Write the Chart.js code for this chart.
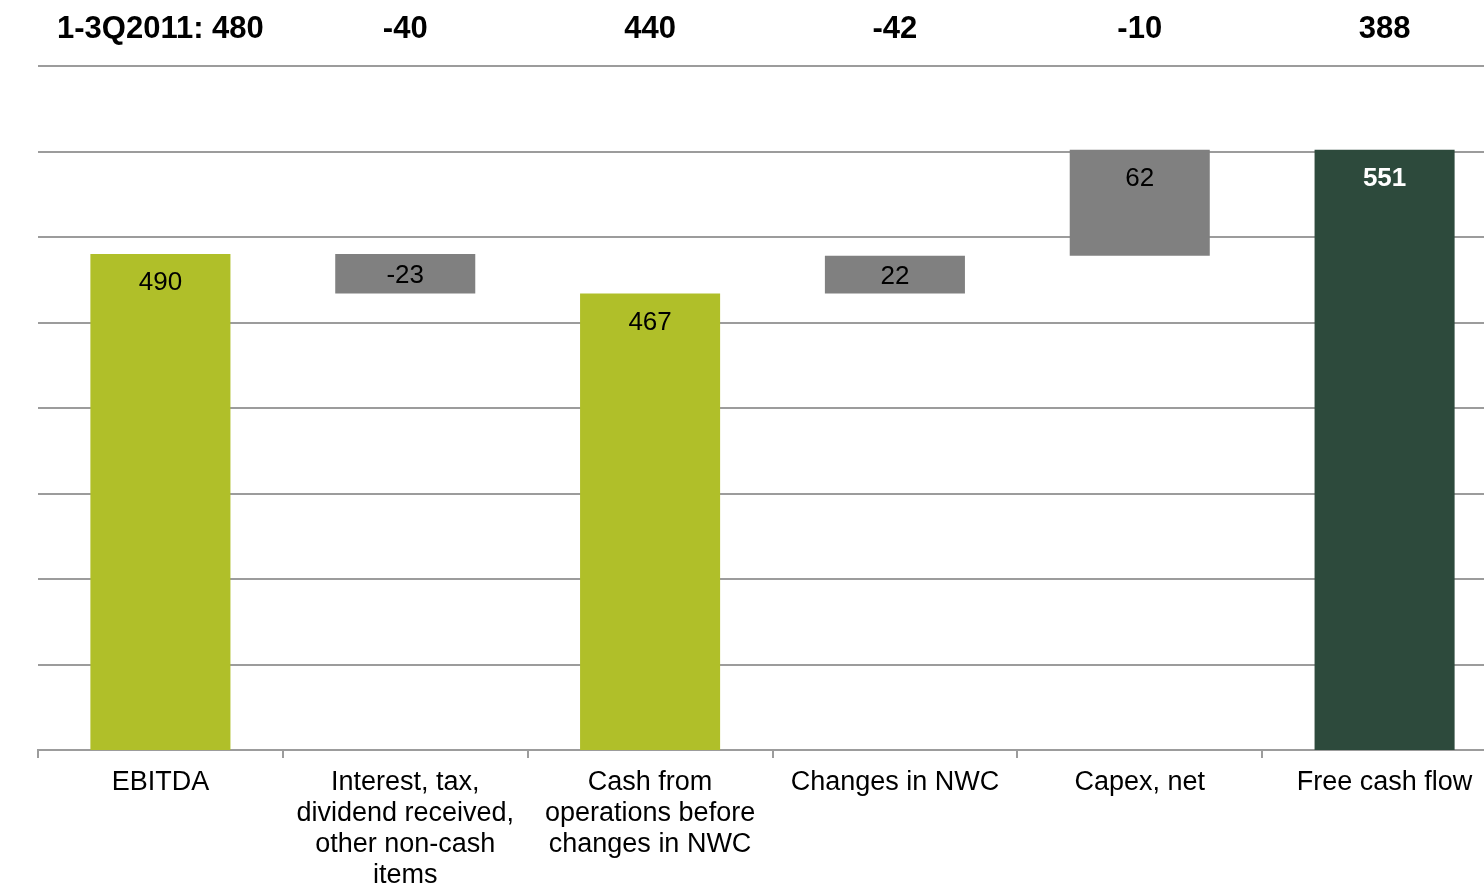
<!DOCTYPE html>
<html>
<head>
<meta charset="utf-8">
<title>Free cash flow 1-3Q2011</title>
<script src="https://cdn.jsdelivr.net/npm/chart.js@4.4.1/dist/chart.umd.min.js"></script>
<style>
  html, body { margin: 0; padding: 0; background: #ffffff; overflow: hidden; }
  #FlowChart { display: block; }
</style>
</head>
<body>
<canvas id="FlowChart" width="1510" height="885"></canvas>
<script>
const categories = [
  'EBITDA',
  ['Interest, tax,', 'dividend received,', 'other non-cash', 'items'],
  ['Cash from', 'operations before', 'changes in NWC'],
  'Changes in NWC',
  'Capex, net',
  'Free cash flow'
];
// previous year figures shown above each column
const topLabels = ['1-3Q2011: 480', '-40', '440', '-42', '-10', '388'];
const stepValues = [490, -23, 467, 22, 62, 551];
const stepKinds = ['total', 'delta', 'total', 'delta', 'delta', 'final'];
const yTicks = { min: 200, max: 600, step: 50 };

const FONT = '"Liberation Sans", Arial, sans-serif';
const GRID_COLOR = '#9c9c9c';

/**
 * Turn the step values into floating [start, end] bars
 */
function buildWaterfall(values, kinds) {
  let bars = [];
  let running = 0;
  for (let i = 0; i < values.length; i++) {
    if (kinds[i] === 'delta') {
      bars.push([running, running + values[i]]);
      running += values[i];
    } else {
      bars.push([0, values[i]]);
      running = values[i];
    }
  }
  return bars;
}

function barColor(kind) {
  if (kind === 'final') return '#2d4a3c';
  if (kind === 'delta') return '#808080';
  return '#b0bf29';
}

// value labels inside the bars
const barLabels = {
  id: 'barLabels',
  afterDatasetsDraw(chart) {
    const ctx = chart.ctx;
    const meta = chart.getDatasetMeta(0);
    ctx.save();
    ctx.textAlign = 'center';
    ctx.textBaseline = 'middle';
    meta.data.forEach((bar, i) => {
      let top = Math.min(bar.y, bar.base);
      let bottom = Math.max(bar.y, bar.base);
      let y = Math.min(top + 27, (top + bottom) / 2) + 2;
      let isFinal = stepKinds[i] === 'final';
      ctx.font = (isFinal ? 'bold ' : '') + '26px ' + FONT;
      ctx.fillStyle = isFinal ? '#ffffff' : '#000000';
      ctx.fillText(String(stepValues[i]), bar.x, y);
    });
    ctx.restore();
  }
};

const config = {
  type: 'bar',
  data: {
    labels: categories,
    datasets: [{
      data: buildWaterfall(stepValues, stepKinds),
      backgroundColor: stepKinds.map(barColor),
      borderWidth: 0,
      barPercentage: 0.572,
      categoryPercentage: 1,
      clip: 0
    }]
  },
  options: {
    responsive: false,
    animation: false,
    layout: { padding: { left: 38, right: 3, top: 0, bottom: 0 } },
    plugins: {
      legend: { display: false },
      tooltip: { enabled: false }
    },
    scales: {
      x: {
        position: 'bottom',
        offset: true,
        afterFit: (scale) => { scale.height = 135; },
        grid: {
          offset: true,
          drawOnChartArea: false,
          drawTicks: true,
          tickLength: 8,
          color: GRID_COLOR,
          lineWidth: 2
        },
        border: { display: true, color: GRID_COLOR, width: 2 },
        ticks: {
          autoSkip: false,
          maxRotation: 0,
          padding: 9,
          color: '#000000',
          font: { family: FONT, size: 27, lineHeight: 1.15 }
        }
      },
      xTop: {
        type: 'category',
        position: 'top',
        labels: topLabels,
        offset: true,
        afterFit: (scale) => { scale.height = 66; },
        grid: { display: false, drawTicks: false },
        border: { display: false },
        ticks: {
          autoSkip: false,
          maxRotation: 0,
          padding: 18,
          color: '#000000',
          font: { family: FONT, size: 31, weight: 'bold', lineHeight: 1.2 }
        }
      },
      y: {
        min: yTicks.min,
        max: yTicks.max,
        afterFit: (scale) => { scale.width = 0; },
        grid: { color: GRID_COLOR, lineWidth: 2, drawTicks: false },
        border: { display: false },
        ticks: { display: false, stepSize: yTicks.step }
      }
    }
  },
  plugins: [barLabels]
};

new Chart(document.getElementById('FlowChart'), config);
</script>
</body>
</html>
